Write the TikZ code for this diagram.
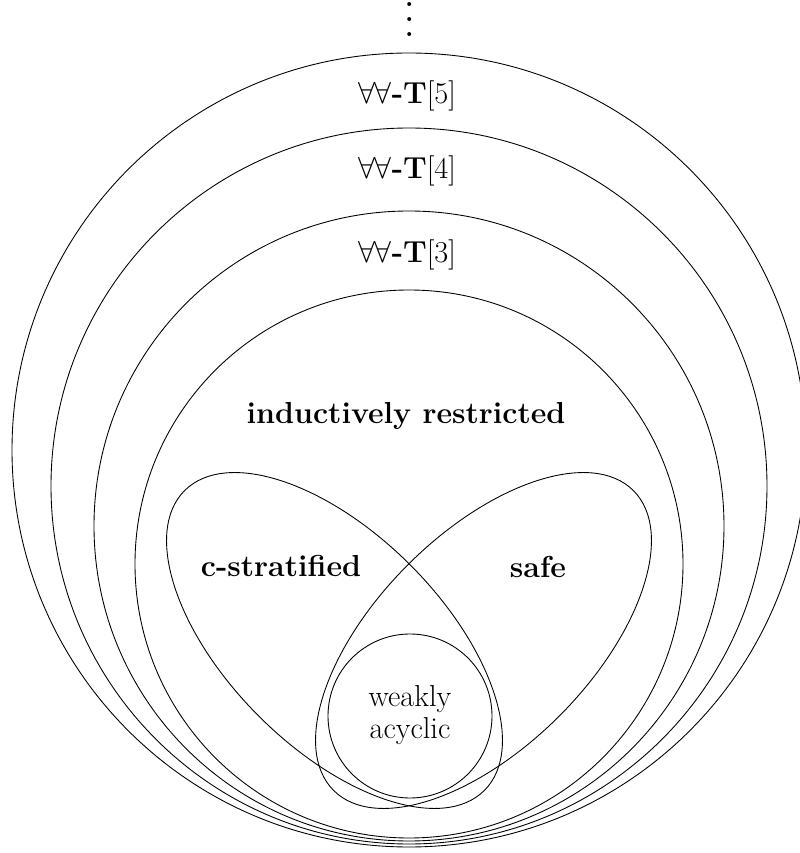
\documentclass[tikz,border=0pt]{standalone}
\usepackage{graphicx}
\begin{document}
\begin{tikzpicture}[x=0.02cm,y=0.02cm,
  ring/.style={draw, line width=0.5pt},
  lbl/.style={font=\LARGE, inner sep=0pt}]
\useasboundingbox (0,0) rectangle (800,853);
% nested classes
\draw[ring] (409,403) circle [radius=397];
\draw[ring] (409,367) circle [radius=358];
\draw[ring] (409,327) circle [radius=315];
\draw[ring] (409,289) circle [radius=274];
% lobes
\draw[ring, rotate around={-45:(334.5,212.5)}] (334.5,212.5) ellipse [x radius=212, y radius=107];
\draw[ring, rotate around={45:(483.5,212.5)}] (483.5,212.5) ellipse [x radius=212, y radius=107];
% weakly acyclic
\draw[ring] (410,137) circle [radius=82];
% labels
\node[inner sep=0pt, anchor=south] (dots) at (410,816)
  {\scalebox{2.13}{\vbox{\baselineskip4pt\lineskiplimit0pt\hbox{.}\hbox{.}\hbox{.}}}};
\node[lbl] (t5) at (407,757) {$\forall\forall$\textbf{-T}$[5]$};
\node[lbl] (t4) at (407,682) {$\forall\forall$\textbf{-T}$[4]$};
\node[lbl] (t3) at (407,598.5) {$\forall\forall$\textbf{-T}$[3]$};
\node[lbl] (ir) at (406,437) {\textbf{inductively restricted}};
\node[lbl] (cs) at (281,287) {\textbf{c-stratified}};
\node[lbl] (sf) at (538,286) {\textbf{safe}};
\node[lbl, align=center] (wa) at (410,138) {weakly\\[-4pt]acyclic};
\end{tikzpicture}
\end{document}
